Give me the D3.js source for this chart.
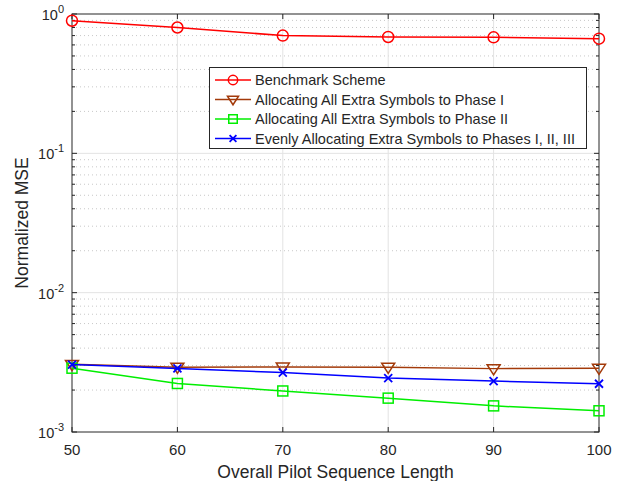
<!DOCTYPE html>
<html>
<head>
<meta charset="utf-8">
<script src="https://cdn.jsdelivr.net/npm/d3@7"></script>
<style>
  body { margin: 0; background: #fff; }
  text { font-family: "Liberation Sans", Arial, sans-serif; fill: #262626; }
</style>
</head>
<body>
<script>
const width = 621;
const height = 481;

const lengths = [50, 60, 70, 80, 90, 100];
const benchmark = [0.895, 0.80, 0.70, 0.684, 0.68, 0.665];
const phaseOne = [0.00306, 0.00292, 0.00293, 0.00292, 0.00285, 0.00287];
const phaseTwo = [0.00287, 0.00223, 0.00197, 0.00175, 0.00154, 0.00142];
const evenly = [0.00305, 0.00286, 0.00267, 0.00244, 0.00232, 0.00222];

const xTicks = [50, 60, 70, 80, 90, 100];
const yExps = [0, -1, -2, -3];

const series = [
  { name: "Benchmark Scheme", values: benchmark, color: "#ff0000", marker: "circle" },
  { name: "Allocating All Extra Symbols to Phase I", values: phaseOne, color: "#a33a0a", marker: "tri" },
  { name: "Allocating All Extra Symbols to Phase II", values: phaseTwo, color: "#00ee00", marker: "square" },
  { name: "Evenly Allocating Extra Symbols to Phases I, II, III", values: evenly, color: "#0000ff", marker: "x" }
];

const m = { left: 72, top: 14, right: 599, bottom: 432 };

const x = d3.scaleLinear().domain([50, 100]).range([m.left, m.right]);
const y = d3.scaleLog().domain([1e-3, 1]).range([m.bottom, m.top]);

const svg = d3.select("body").append("svg")
  .attr("width", width)
  .attr("height", height);

// minor values for log grid
const minors = [];
for (let e = -3; e < 0; e++) {
  for (let k = 2; k <= 9; k++) minors.push(k * Math.pow(10, e));
}

const grid = svg.append("g");
grid.selectAll(".minor").data(minors).join("line")
  .attr("x1", m.left).attr("x2", m.right)
  .attr("y1", d => y(d)).attr("y2", d => y(d))
  .attr("stroke", "#c8c8c8").attr("stroke-width", 1)
  .attr("stroke-dasharray", "1,3");
grid.selectAll(".vmaj").data(xTicks.slice(1, -1)).join("line")
  .attr("x1", d => x(d)).attr("x2", d => x(d))
  .attr("y1", m.top).attr("y2", m.bottom)
  .attr("stroke", "#e3e3e3").attr("stroke-width", 1);
grid.selectAll(".hmaj").data(yExps.slice(1, -1)).join("line")
  .attr("x1", m.left).attr("x2", m.right)
  .attr("y1", d => y(Math.pow(10, d))).attr("y2", d => y(Math.pow(10, d)))
  .attr("stroke", "#e3e3e3").attr("stroke-width", 1);

// axes with ticks pointing inward
const ax = svg.append("g").attr("stroke", "#262626").attr("stroke-width", 1);
ax.append("rect")
  .attr("x", m.left).attr("y", m.top)
  .attr("width", m.right - m.left).attr("height", m.bottom - m.top)
  .attr("fill", "none");
xTicks.forEach(t => {
  ax.append("line").attr("x1", x(t)).attr("x2", x(t)).attr("y1", m.bottom).attr("y2", m.bottom - 5);
  ax.append("line").attr("x1", x(t)).attr("x2", x(t)).attr("y1", m.top).attr("y2", m.top + 5);
});
yExps.forEach(e => {
  const yy = y(Math.pow(10, e));
  ax.append("line").attr("x1", m.left).attr("x2", m.left + 5).attr("y1", yy).attr("y2", yy);
  ax.append("line").attr("x1", m.right).attr("x2", m.right - 5).attr("y1", yy).attr("y2", yy);
});
minors.forEach(v => {
  const yy = y(v);
  ax.append("line").attr("x1", m.left).attr("x2", m.left + 3).attr("y1", yy).attr("y2", yy);
  ax.append("line").attr("x1", m.right).attr("x2", m.right - 3).attr("y1", yy).attr("y2", yy);
});

// tick labels
svg.append("g").selectAll("text").data(xTicks).join("text")
  .attr("x", d => x(d)).attr("y", m.bottom + 23)
  .attr("text-anchor", "middle")
  .attr("font-size", 15)
  .text(d => d);

const yl = svg.append("g").selectAll("text").data(yExps).join("text")
  .attr("x", 64).attr("y", d => y(Math.pow(10, d)) + 6)
  .attr("text-anchor", "end")
  .attr("font-size", 14.5);
yl.append("tspan").text("10");
yl.append("tspan").attr("dy", -7).attr("font-size", 11).text(d => d === 0 ? "0" : "-" + Math.abs(d));

// axis titles
svg.append("text")
  .attr("x", (m.left + m.right) / 2).attr("y", 478)
  .attr("text-anchor", "middle").attr("font-size", 17.5)
  .text("Overall Pilot Sequence Length");
svg.append("text")
  .attr("transform", `translate(28, ${(m.top + m.bottom) / 2}) rotate(-90)`)
  .attr("text-anchor", "middle").attr("font-size", 17.5)
  .text("Normalized MSE");

// marker drawing
const drawMarker = (g, type, color, cx, cy, scale) => {
  const s = scale || 1;
  if (type === "circle") {
    g.append("circle").attr("cx", cx).attr("cy", cy).attr("r", 5.5 * s)
      .attr("fill", "none").attr("stroke", color).attr("stroke-width", 1.5);
  } else if (type === "tri") {
    const r = 6.5 * s;
    g.append("path")
      .attr("d", `M${cx - r},${cy - r * 0.6}L${cx + r},${cy - r * 0.6}L${cx},${cy + r * 0.95}Z`)
      .attr("fill", "none").attr("stroke", color).attr("stroke-width", 1.5);
  } else if (type === "square") {
    const r = 5 * s;
    g.append("rect").attr("x", cx - r).attr("y", cy - r).attr("width", 2 * r).attr("height", 2 * r)
      .attr("fill", "none").attr("stroke", color).attr("stroke-width", 1.5);
  } else {
    const r = 4 * s;
    g.append("path")
      .attr("d", `M${cx - r},${cy - r}L${cx + r},${cy + r}M${cx - r},${cy + r}L${cx + r},${cy - r}`)
      .attr("stroke", color).attr("stroke-width", 1.8);
  }
};

const line = d3.line().x(d => x(d[0])).y(d => y(d[1]));

series.forEach(s => {
  const pts = lengths.map((l, i) => [l, s.values[i]]);
  const g = svg.append("g");
  g.append("path").datum(pts).attr("d", line)
    .attr("fill", "none").attr("stroke", s.color).attr("stroke-width", 1.5);
  pts.forEach(p => drawMarker(g, s.marker, s.color, x(p[0]), y(p[1])));
});

// legend
const lg = svg.append("g");
lg.append("rect")
  .attr("x", 209.5).attr("y", 67.5).attr("width", 377).attr("height", 81)
  .attr("fill", "#fff").attr("stroke", "#262626").attr("stroke-width", 1);
series.forEach((s, i) => {
  const yy = 80 + i * 19.5;
  lg.append("line").attr("x1", 215).attr("x2", 251).attr("y1", yy).attr("y2", yy)
    .attr("stroke", s.color).attr("stroke-width", 1.5);
  drawMarker(lg, s.marker, s.color, 233, yy, 0.85);
  lg.append("text").attr("x", 255).attr("y", yy + 5)
    .attr("font-size", 14.5).attr("fill", "#000")
    .text(s.name);
});
</script>
</body>
</html>
